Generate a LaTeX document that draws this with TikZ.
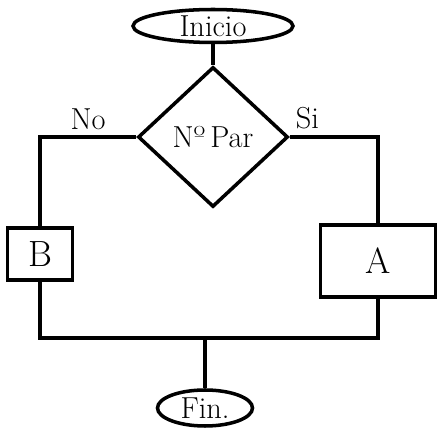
\documentclass[tikz,border=0pt]{standalone}
\usepackage{tikz}
\usetikzlibrary{shapes.geometric, positioning}

\begin{document}
\begin{tikzpicture}[
    x=0.2mm, y=-0.2mm,
    terminal/.style={
        ellipse, draw, line width=2pt,
        inner sep=0pt, align=center
    },
    decision/.style={
        diamond, draw, line width=2pt,
        minimum width=30mm, minimum height=28mm,
        inner sep=0pt, align=center
    },
    process/.style={
        rectangle, draw, line width=2pt,
        align=center
    },
    line/.style={line width=2pt}
]
\useasboundingbox (0,0) rectangle (439,428);

% Main vertical blocks
\node[terminal, minimum width=32mm, minimum height=6.6mm] (inicio) at (213,26) {\LARGE Inicio};
\node[decision] (cond) at (213,137) {\LARGE N\textordmasculine\,Par};

% Side blocks
\node[process, minimum width=13mm, minimum height=10.4mm] (b) at (40,254) {\huge B};
\node[process, minimum width=23mm, minimum height=14.4mm] (a) at (378,261) {\huge A};

\node[terminal, minimum width=19mm, minimum height=7.2mm] (fin) at (205,408) {\LARGE Fin.};
\coordinate (join) at (205,338);

% Main arrows
\draw[line] (inicio) -- (cond);

% Side arrows
\draw[line] (cond.west) -| node[above, pos=0.25] {\LARGE No} (b.north);
\draw[line] (cond.east) -| node[above, pos=0.1] {\LARGE Si} (a.north);

\draw[line] (b.south) |- (join);
\draw[line] (a.south) |- (join);
\draw[line] (join) -- (fin);

\end{tikzpicture}
\end{document}
